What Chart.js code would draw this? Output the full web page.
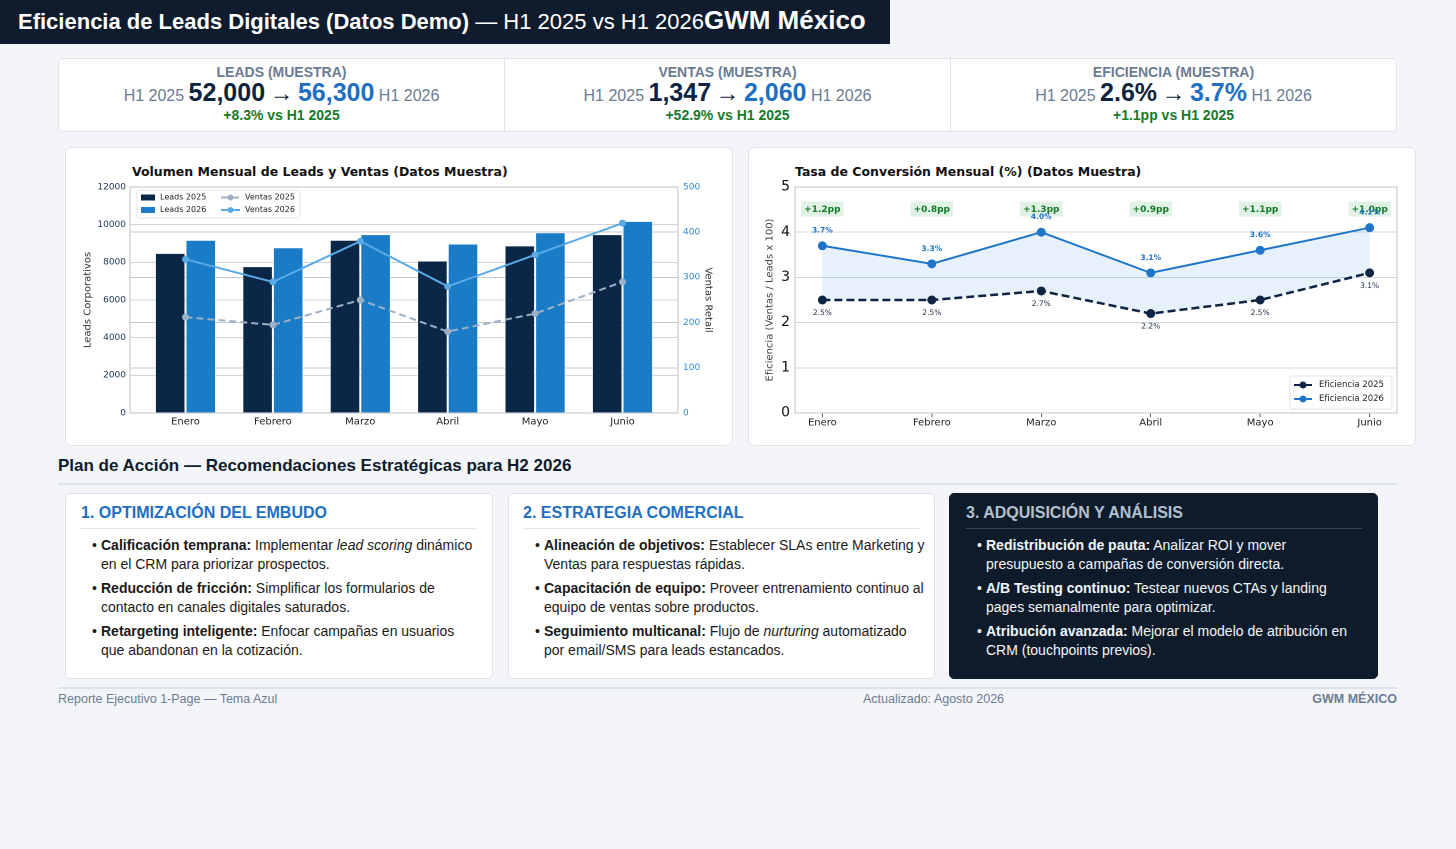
<!DOCTYPE html>
<html lang="es">
<head>
<meta charset="utf-8">
<title>Eficiencia de Leads Digitales — GWM México</title>
<script src="https://cdn.jsdelivr.net/npm/chart.js@4.4.1/dist/chart.umd.min.js"></script>
<style>
  body { margin:0; background:#f3f5f8; font-family:"Liberation Sans", Arial, sans-serif; width:1456px; height:849px; position:relative; overflow:hidden; }
  .hdr { position:absolute; left:0; top:0; width:890px; height:44px; background:#0f1c2e; color:#fff; }
  .hdr .t { position:absolute; left:18px; top:0; line-height:40px; white-space:nowrap; font-size:22px; }
  .hdr b.big { font-size:26px; }
  .kpi { position:absolute; left:58px; top:58px; width:1337px; height:72px; background:#fff; border:1px solid #dfe4ea; border-radius:5px; display:flex; }
  .kpi .cell { flex:1; position:relative; text-align:center; }
  .kpi .cell + .cell { border-left:1px solid #dfe4ea; }
  .kpi .lab { position:absolute; left:0; right:0; top:5px; line-height:16px; font-size:14px; font-weight:bold; color:#6b7c93; }
  .kpi .main { position:absolute; left:0; right:0; top:18px; line-height:30px; font-size:16px; color:#6b7c93; white-space:nowrap; }
  .kpi .main b { font-size:25px; }
  .kpi .main .v1 { color:#0d2340; }
  .kpi .main .v2 { color:#1f6fc2; }
  .kpi .main .arr { font-size:24px; color:#0d2340; }
  .kpi .sub { position:absolute; left:0; right:0; top:48px; line-height:16px; font-size:14px; font-weight:bold; color:#18792a; }
  .card { position:absolute; background:#fff; border:1px solid #dfe4ea; border-radius:6px; }
  .ctitle { position:absolute; font-family:"DejaVu Sans", sans-serif; font-weight:bold; font-size:12.5px; color:#111; white-space:nowrap; }
  canvas { position:absolute; left:0; top:0; }
  .sect { position:absolute; left:58px; top:456px; font-size:17px; font-weight:bold; color:#0f1c2e; white-space:nowrap; }
  .sline { position:absolute; left:58px; top:483px; width:1339px; height:2px; background:#dfe4ea; }
  .act { position:absolute; top:493px; height:184px; background:#fff; border:1px solid #dfe4ea; border-radius:5px; }
  .act h3 { position:absolute; top:9px; margin:0; font-size:16px; line-height:20px; color:#1f6fc2; white-space:nowrap; }
  .act .div { position:absolute; top:34px; height:1px; background:#dfe4ea; }
  .act .list { position:absolute; top:42px; }
  .act .it { position:relative; font-size:14px; line-height:19px; color:#1a1a1a; margin-bottom:5px; }
  .act .it::before { content:"•"; position:absolute; left:-9px; top:0; }
  .act.dark { background:#0e1b2b; border-color:#0e1b2b; }
  .act.dark h3 { color:#b2c0cf; }
  .act.dark .div { background:#34465c; }
  .act.dark .it { color:#f2f5f8; }
  .fline { position:absolute; left:58px; top:687px; width:1339px; height:2px; background:#dde3ea; }
  .foot { position:absolute; top:691px; line-height:16px; font-size:12.5px; color:#6b7c93; white-space:nowrap; }
</style>
</head>
<body>

<div class="hdr"><div class="t"><b>Eficiencia de Leads Digitales (Datos Demo)</b> — H1 2025 vs H1 2026<b class="big">GWM México</b></div></div>

<div class="kpi" id="kpi"></div>

<div class="card" style="left:65px;top:147px;width:666px;height:297px;">
  <div class="ctitle" style="left:66px;top:16px;">Volumen Mensual de Leads y Ventas (Datos Muestra)</div>
  <canvas id="volChart"></canvas>
</div>
<div class="card" style="left:748px;top:147px;width:666px;height:297px;">
  <div class="ctitle" style="left:46px;top:16px;">Tasa de Conversión Mensual (%) (Datos Muestra)</div>
  <canvas id="effChart"></canvas>
</div>

<div class="sect">Plan de Acción — Recomendaciones Estratégicas para H2 2026</div>
<div class="sline"></div>

<div class="act" style="left:65px;width:426px;">
  <h3 style="left:15px;">1. OPTIMIZACIÓN DEL EMBUDO</h3>
  <div class="div" style="left:15px;width:396px;"></div>
  <div class="list" style="left:35px;width:372px;">
    <div class="it"><b>Calificación temprana:</b> Implementar <i>lead scoring</i> dinámico en el CRM para priorizar prospectos.</div>
    <div class="it"><b>Reducción de fricción:</b> Simplificar los formularios de contacto en canales digitales saturados.</div>
    <div class="it"><b>Retargeting inteligente:</b> Enfocar campañas en usuarios que abandonan en la cotización.</div>
  </div>
</div>
<div class="act" style="left:508px;width:425px;">
  <h3 style="left:14px;">2. ESTRATEGIA COMERCIAL</h3>
  <div class="div" style="left:14px;width:396px;"></div>
  <div class="list" style="left:35px;width:385px;">
    <div class="it"><b>Alineación de objetivos:</b> Establecer SLAs entre Marketing y Ventas para respuestas rápidas.</div>
    <div class="it"><b>Capacitación de equipo:</b> Proveer entrenamiento continuo al equipo de ventas sobre productos.</div>
    <div class="it"><b>Seguimiento multicanal:</b> Flujo de <i>nurturing</i> automatizado por email/SMS para leads estancados.</div>
  </div>
</div>
<div class="act dark" style="left:949px;width:427px;">
  <h3 style="left:16px;">3. ADQUISICIÓN Y ANÁLISIS</h3>
  <div class="div" style="left:16px;width:396px;"></div>
  <div class="list" style="left:36px;width:380px;">
    <div class="it"><b>Redistribución de pauta:</b> Analizar ROI y mover presupuesto a campañas de conversión directa.</div>
    <div class="it"><b>A/B Testing continuo:</b> Testear nuevos CTAs y landing pages semanalmente para optimizar.</div>
    <div class="it"><b>Atribución avanzada:</b> Mejorar el modelo de atribución en CRM (touchpoints previos).</div>
  </div>
</div>

<div class="fline"></div>
<div class="foot" style="left:58px;">Reporte Ejecutivo 1-Page — Tema Azul</div>
<div class="foot" style="left:863px;">Actualizado: Agosto 2026</div>
<div class="foot" style="right:59px;font-weight:bold;">GWM MÉXICO</div>

<script>
const months = ["Enero", "Febrero", "Marzo", "Abril", "Mayo", "Junio"];
const leads2025 = [8500, 7800, 9200, 8100, 8900, 9500];
const leads2026 = [9200, 8800, 9500, 9000, 9600, 10200];
const ventas2025 = [212, 195, 250, 180, 220, 290];
const ventas2026 = [340, 290, 380, 280, 350, 420];
const eficiencia2025 = [2.5, 2.5, 2.7, 2.2, 2.5, 3.1];
const eficiencia2026 = [3.7, 3.3, 4.0, 3.1, 3.6, 4.1];

// tarjetas KPI
const kpiLabels = ["LEADS (MUESTRA)", "VENTAS (MUESTRA)", "EFICIENCIA (MUESTRA)"];
const kpi2025 = ["52,000", "1,347", "2.6%"];
const kpi2026 = ["56,300", "2,060", "3.7%"];
const kpiDelta = ["+8.3% vs H1 2025", "+52.9% vs H1 2025", "+1.1pp vs H1 2025"];

const kpiBox = document.getElementById('kpi');
kpiLabels.forEach((lab, i) => {
  const c = document.createElement('div');
  c.className = 'cell';
  c.innerHTML = '<div class="lab">' + lab + '</div>' +
    '<div class="main">H1 2025 <b class="v1">' + kpi2025[i] + '</b> <span class="arr">→</span> <b class="v2">' + kpi2026[i] + '</b> H1 2026</div>' +
    '<div class="sub">' + kpiDelta[i] + '</div>';
  kpiBox.appendChild(c);
});

const xy = arr => arr.map((v, i) => ({ x: i, y: v }));
const chartFont = '"DejaVu Sans", sans-serif';
Chart.defaults.font.family = chartFont;
Chart.defaults.animation = false;
Chart.defaults.devicePixelRatio = 2;

// marco del area de grafico
const frame = {
  id: 'frame',
  afterDatasetsDraw(chart) {
    const a = chart.chartArea, ctx = chart.ctx;
    ctx.save();
    ctx.strokeStyle = '#c9ced4';
    ctx.lineWidth = 1.2;
    ctx.strokeRect(a.left, a.top, a.width, a.height);
    ctx.restore();
  }
};

function sizeCanvas(id) {
  const cv = document.getElementById(id);
  cv.style.width = '668px';
  cv.style.height = '299px';
  cv.width = 668; cv.height = 299;
  cv.style.left = '-1px'; cv.style.top = '-1px';
  return cv;
}

// leyenda dentro del grafico de volumen
const volLegend = {
  id: 'volLegend',
  afterDatasetsDraw(chart) {
    const { ctx, chartArea: a } = chart;
    const x0 = a.left + 7, y0 = a.top + 3;
    ctx.save();
    ctx.fillStyle = 'rgba(255,255,255,0.9)';
    ctx.strokeStyle = '#e2e5e9';
    ctx.lineWidth = 1;
    ctx.beginPath(); ctx.roundRect(x0, y0, 163, 28, 2); ctx.fill(); ctx.stroke();
    ctx.font = '8px ' + chartFont;
    ctx.textBaseline = 'middle';
    const ds = chart.data.datasets;
    const rows = [y0 + 7.5, y0 + 20];
    [2, 3].forEach((k, r) => {
      ctx.fillStyle = ds[k].backgroundColor;
      ctx.fillRect(x0 + 4, rows[r] - 3, 14, 6);
      ctx.fillStyle = '#222';
      ctx.fillText(ds[k].label, x0 + 23, rows[r]);
    });
    [0, 1].forEach((k, r) => {
      ctx.strokeStyle = ds[k].borderColor;
      ctx.lineWidth = 2;
      ctx.setLineDash(ds[k].borderDash || []);
      ctx.beginPath(); ctx.moveTo(x0 + 84, rows[r]); ctx.lineTo(x0 + 103, rows[r]); ctx.stroke();
      ctx.setLineDash([]);
      ctx.fillStyle = ds[k].borderColor;
      ctx.beginPath(); ctx.arc(x0 + 93.5, rows[r], 3, 0, Math.PI * 2); ctx.fill();
      ctx.fillStyle = '#222';
      ctx.fillText(ds[k].label, x0 + 108, rows[r]);
    });
    ctx.restore();
  }
};

new Chart(sizeCanvas('volChart'), {
  type: 'bar',
  data: {
    datasets: [
      { type: 'line', label: 'Ventas 2025', data: xy(ventas2025), yAxisID: 'y2', borderColor: '#9db1c6', backgroundColor: '#9db1c6',
        borderDash: [7, 4], borderWidth: 2, pointRadius: 3.5, pointBackgroundColor: '#9db1c6', pointBorderWidth: 0, order: 0 },
      { type: 'line', label: 'Ventas 2026', data: xy(ventas2026), yAxisID: 'y2', borderColor: '#5aaae6', backgroundColor: '#5aaae6',
        borderWidth: 2, pointRadius: 3.5, pointBackgroundColor: '#5aaae6', pointBorderWidth: 0, order: 0 },
      { label: 'Leads 2025', data: xy(leads2025), yAxisID: 'y', backgroundColor: '#0b2747', borderColor: 'rgba(255,255,255,0.5)',
        borderWidth: 1, categoryPercentage: 0.7, barPercentage: 1, order: 1 },
      { label: 'Leads 2026', data: xy(leads2026), yAxisID: 'y', backgroundColor: '#1a7bc6', borderColor: 'rgba(255,255,255,0.6)',
        borderWidth: 1, categoryPercentage: 0.7, barPercentage: 1, order: 1 }
    ]
  },
  options: {
    responsive: false,
    layout: { padding: { top: 40, left: 13, right: 15, bottom: 0 } },
    plugins: { legend: { display: false }, tooltip: { enabled: false } },
    scales: {
      x: {
        type: 'linear', min: -0.635, max: 5.635, offset: false,
        afterBuildTicks: s => { s.ticks = months.map((m, i) => ({ value: i })); },
        afterFit: s => { s.height = 33; },
        ticks: { callback: v => months[v], color: '#222', font: { size: 10 }, padding: 3, maxRotation: 0 },
        grid: { display: false, offset: false, drawTicks: false },
        border: { display: false }
      },
      y: {
        position: 'left', min: 0, max: 12000,
        afterFit: s => { s.width = 52; },
        ticks: { stepSize: 2000, color: '#1b3556', font: { size: 9 }, padding: 4, callback: v => String(v) },
        grid: { color: '#cfd3d8', borderDash: [2, 2], drawTicks: false },
        border: { display: false },
        title: { display: true, text: 'Leads Corporativos', color: '#333', font: { size: 10 }, padding: { top: 4, bottom: 0 } }
      },
      y2: {
        position: 'right', min: 0, max: 500,
        afterFit: s => { s.width = 40; },
        ticks: { stepSize: 100, color: '#2b88d8', font: { size: 9 }, padding: 5, callback: v => String(v) },
        grid: { color: '#c4c8ce', borderDash: [3, 3], drawTicks: false },
        border: { display: false },
        title: { display: true, text: 'Ventas Retail', color: '#333', font: { size: 10 }, padding: { top: 4, bottom: 0 } }
      }
    }
  },
  plugins: [frame, volLegend]
});

// etiquetas de valores y diferencias en el grafico de eficiencia
const effLabels = {
  id: 'effLabels',
  afterDatasetsDraw(chart) {
    const { ctx } = chart;
    const p25 = chart.getDatasetMeta(0).data;
    const p26 = chart.getDatasetMeta(1).data;
    const yDelta = chart.scales.y.getPixelForValue(4.5);
    ctx.save();
    ctx.textAlign = 'center';
    ctx.textBaseline = 'middle';
    months.forEach((m, i) => {
      const d = '+' + (eficiencia2026[i] - eficiencia2025[i]).toFixed(1) + 'pp';
      ctx.font = 'bold 9px ' + chartFont;
      const w = ctx.measureText(d).width + 6;
      ctx.fillStyle = 'rgba(214,238,220,0.75)';
      ctx.fillRect(p26[i].x - w / 2, yDelta - 8, w, 15);
      ctx.fillStyle = '#127a25';
      ctx.fillText(d, p26[i].x, yDelta);
    });
    months.forEach((m, i) => {
      ctx.font = '7.5px ' + chartFont;
      ctx.fillStyle = '#1f2f48';
      ctx.fillText(eficiencia2025[i].toFixed(1) + '%', p25[i].x, p25[i].y + 13);
      ctx.font = 'bold 7.5px ' + chartFont;
      ctx.fillStyle = '#1f72c6';
      ctx.fillText(eficiencia2026[i].toFixed(1) + '%', p26[i].x, p26[i].y - 15);
    });
    // leyenda
    const a = chart.chartArea, ds = chart.data.datasets;
    const bx = a.right - 107, by = a.bottom - 37;
    ctx.fillStyle = 'rgba(255,255,255,0.92)';
    ctx.strokeStyle = '#e0e3e7';
    ctx.lineWidth = 1;
    ctx.beginPath(); ctx.roundRect(bx, by, 102, 33, 2); ctx.fill(); ctx.stroke();
    ctx.textAlign = 'left';
    ctx.font = '8.5px ' + chartFont;
    [0, 1].forEach(k => {
      const ry = by + 9 + k * 14;
      ctx.strokeStyle = ds[k].borderColor;
      ctx.lineWidth = 2;
      ctx.setLineDash(ds[k].borderDash || []);
      ctx.beginPath(); ctx.moveTo(bx + 4, ry); ctx.lineTo(bx + 22, ry); ctx.stroke();
      ctx.setLineDash([]);
      ctx.fillStyle = ds[k].borderColor;
      ctx.beginPath(); ctx.arc(bx + 13, ry, 3.5, 0, Math.PI * 2); ctx.fill();
      ctx.fillStyle = '#222';
      ctx.fillText(ds[k].label, bx + 29, ry);
    });
    ctx.restore();
  }
};

new Chart(sizeCanvas('effChart'), {
  type: 'line',
  data: {
    datasets: [
      { label: 'Eficiencia 2025', data: xy(eficiencia2025), borderColor: '#0d2444', backgroundColor: '#0d2444',
        borderDash: [8, 4], borderWidth: 2.5, pointRadius: 4.5, pointBackgroundColor: '#0d2444', pointBorderWidth: 0, fill: false },
      { label: 'Eficiencia 2026', data: xy(eficiencia2026), borderColor: '#1f75c8', backgroundColor: 'rgba(40,130,215,0.11)',
        borderWidth: 2, pointRadius: 4.5, pointBackgroundColor: '#1f75c8', pointBorderWidth: 0, fill: '-1' }
    ]
  },
  options: {
    responsive: false,
    layout: { padding: { top: 40, left: 12, right: 19, bottom: 0 } },
    plugins: { legend: { display: false }, tooltip: { enabled: false } },
    scales: {
      x: {
        type: 'linear', min: -0.25, max: 5.25, offset: false,
        afterBuildTicks: s => { s.ticks = months.map((m, i) => ({ value: i })); },
        afterFit: s => { s.height = 33; },
        ticks: { callback: v => months[v], color: '#222', font: { size: 10 }, padding: 0, maxRotation: 0 },
        grid: { drawOnChartArea: false, drawTicks: true, tickLength: 4, color: '#666' },
        border: { display: false }
      },
      y: {
        min: 0, max: 5,
        afterFit: s => { s.width = 35; },
        ticks: { stepSize: 1, color: '#111', font: { size: 14 }, padding: 5 },
        grid: { color: '#d3d6da', borderDash: [2, 2], drawTicks: false },
        border: { display: false },
        title: { display: true, text: 'Eficiencia (Ventas / Leads x 100)', color: '#444', font: { size: 10 }, padding: { top: 4, bottom: 0 } }
      }
    }
  },
  plugins: [frame, effLabels]
});
</script>
</body>
</html>
